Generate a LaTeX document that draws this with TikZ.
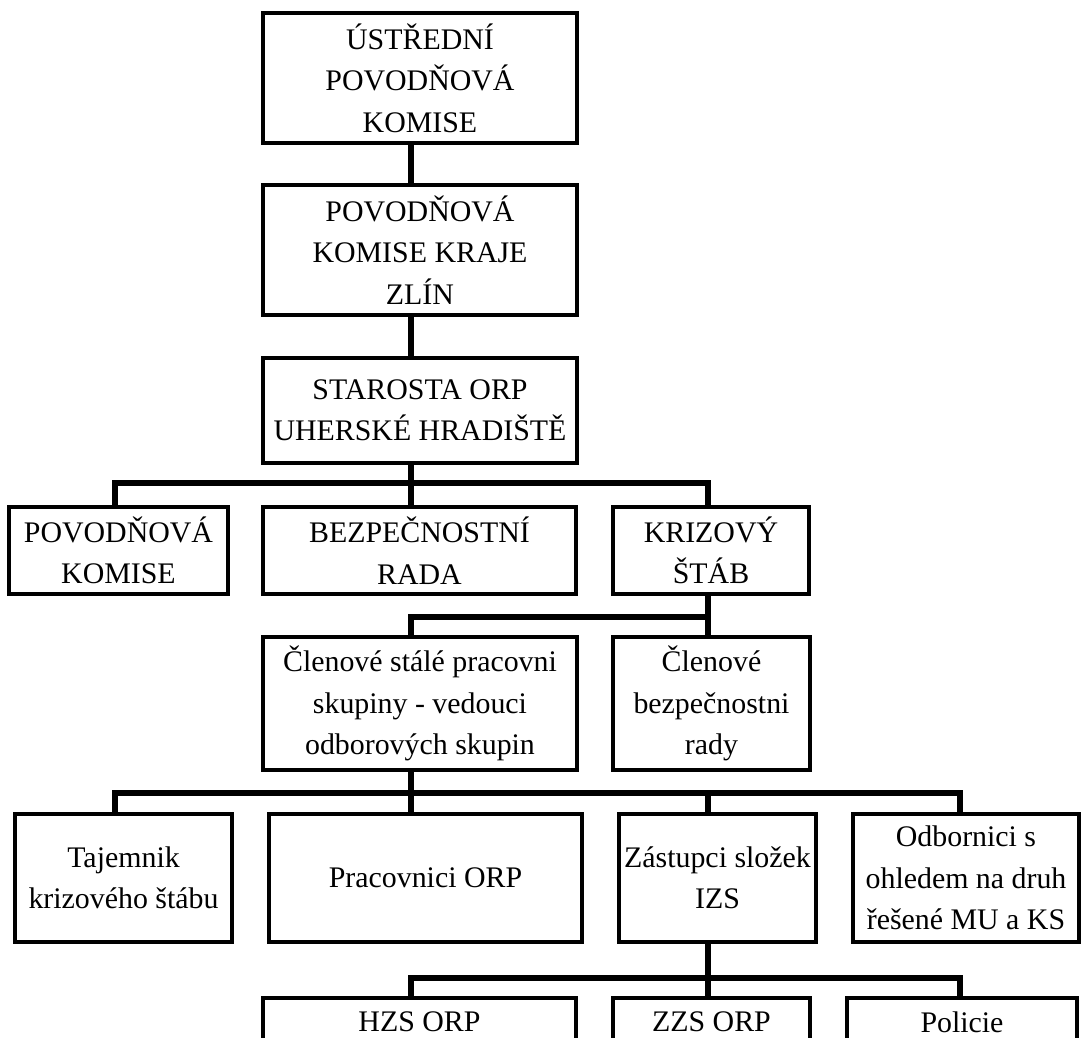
\documentclass[tikz,border=0pt]{standalone}
\usepackage{fontspec}
\setmainfont{Liberation Serif}

\begin{document}
\begin{tikzpicture}[x=1cm,y=-1cm,
	box/.style={draw,line width=2.1pt,inner sep=0pt,align=center,font=\fontsize{17}{23.6}\selectfont},
	link/.style={line width=3.2pt}]

\path[use as bounding box,clip] (0,0) rectangle (21.64,20.76);

% The columns and levels of the connectors
\coordinate (colA) at (2.30,0);
\coordinate (colB) at (8.22,0);
\coordinate (colC) at (14.16,0);
\coordinate (colD) at (19.20,0);
\coordinate (busA) at (0,9.66);
\coordinate (busB) at (0,12.34);
\coordinate (busC) at (0,15.86);
\coordinate (busD) at (0,19.56);

% The boxes
\node[box,minimum width=6.28cm,minimum height=2.60cm] (ustredni) at (8.40,1.56) {ÚSTŘEDNÍ\\POVODŇOVÁ\\KOMISE};
\node[box,minimum width=6.28cm,minimum height=2.60cm] (kraj) at (8.40,5.00) {POVODŇOVÁ\\KOMISE KRAJE\\ZLÍN};
\node[box,minimum width=6.28cm,minimum height=2.10cm] (starosta) at (8.40,8.21) {STAROSTA ORP\\UHERSKÉ HRADIŠTĚ};

\node[box,minimum width=4.38cm,minimum height=1.74cm] (povkom) at (2.37,11.01) {POVODŇOVÁ\\KOMISE};
\node[box,minimum width=6.26cm,minimum height=1.74cm] (bezprada) at (8.39,11.01) {BEZPEČNOSTNÍ\\RADA};
\node[box,minimum width=3.92cm,minimum height=1.74cm] (krizovy) at (14.22,11.01) {KRIZOVÝ\\ŠTÁB};

\node[box,minimum width=6.28cm,minimum height=2.66cm] (clenove) at (8.40,14.07) {Členové stálé pracovni\\skupiny - vedouci\\odborových skupin};
\node[box,minimum width=3.94cm,minimum height=2.66cm] (clenbr) at (14.23,14.07) {Členové\\bezpečnostni\\rady};

\node[box,minimum width=4.34cm,minimum height=2.56cm] (tajemnik) at (2.47,17.56) {Tajemnik\\krizového štábu};
\node[box,minimum width=6.26cm,minimum height=2.56cm] (pracovnici) at (8.51,17.56) {Pracovnici ORP};
\node[box,minimum width=3.94cm,minimum height=2.56cm] (zastupci) at (14.35,17.56) {Zástupci složek\\IZS};
\node[box,minimum width=4.52cm,minimum height=2.56cm] (odbornici) at (19.32,17.56) {Odbornici s\\ohledem na druh\\řešené MU a KS};

\node[box,minimum width=6.26cm,minimum height=0.96cm] (hzs) at (8.39,20.44) {HZS ORP};
\node[box,minimum width=3.94cm,minimum height=0.96cm] (zzs) at (14.23,20.44) {ZZS ORP};
\node[box,minimum width=4.60cm,minimum height=0.96cm] (policie) at (19.24,20.44) {Policie};

% The connectors
\draw[link] (ustredni.south -| colB) -- (kraj.north -| colB);
\draw[link] (kraj.south -| colB) -- (starosta.north -| colB);

\draw[link] (starosta.south -| colB) -- (bezprada.north -| colB);
\draw[link] (povkom.north -| colA) |- (busA -| colC) -- (krizovy.north -| colC);

\draw[link] (krizovy.south -| colC) -- (clenbr.north -| colC);
\draw[link] (busB -| colC) -| (clenove.north -| colB);

\draw[link] (clenove.south -| colB) -- (pracovnici.north -| colB);
\draw[link] (tajemnik.north -| colA) |- (busC -| colD) -- (odbornici.north -| colD);
\draw[link] (busC -| colC) -- (zastupci.north -| colC);

\draw[link] (zastupci.south -| colC) -- (zzs.north -| colC);
\draw[link] (hzs.north -| colB) |- (busD -| colD) -- (policie.north -| colD);

\end{tikzpicture}
\end{document}
